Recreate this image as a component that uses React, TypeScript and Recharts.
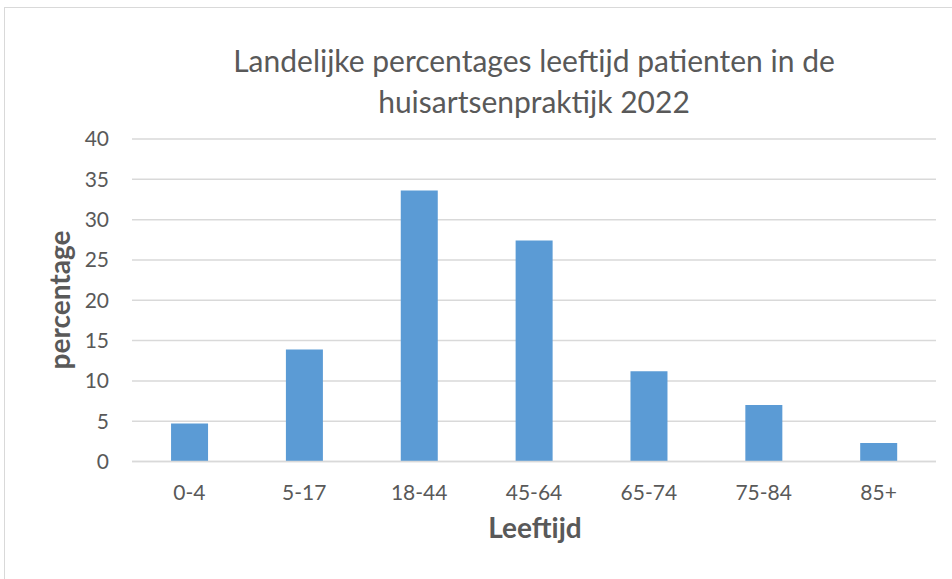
import React from 'react';
import { BarChart, Bar, XAxis, YAxis, CartesianGrid } from 'recharts';

const categories = ['0-4', '5-17', '18-44', '45-64', '65-74', '75-84', '85+'];
const percentages = [4.7, 13.9, 33.6, 27.4, 11.2, 7.0, 2.3];
const yTicks = [0, 5, 10, 15, 20, 25, 30, 35, 40];
const titleLines = ['Landelijke percentages leeftijd patienten in de', 'huisartsenpraktijk 2022'];
const xTitle = 'Leeftijd';
const yTitle = 'percentage';

const data = categories.map((c, i) => ({ cat: c, value: percentages[i] }));

const FONT = 'Lato, "Open Sans", sans-serif';
const TEXT = '#595959';

export default function App() {
  return (
    <div style={{ position: 'absolute', top: 0, left: 0, width: 952, height: 579, background: '#fff', fontFamily: FONT }}>
      <div style={{ position: 'absolute', left: 4, top: 7, width: 948, height: 572, borderTop: '1px solid #d9d9d9', borderLeft: '1px solid #d9d9d9' }} />
      <div style={{ position: 'absolute', left: 0, top: 0 }}>
        <BarChart width={952} height={579} data={data} margin={{ top: 139, right: 16, bottom: 87.5, left: 0 }} barCategoryGap="34%">
          <CartesianGrid vertical={false} stroke="#d9d9d9" strokeWidth={1.5} />
          <XAxis dataKey="cat" height={30} axisLine={{ stroke: '#d9d9d9', strokeWidth: 1.5 }} tickLine={false} tickMargin={18}
            fontSize={21} tick={{ fill: TEXT, fontSize: 21, fontFamily: FONT }} />
          <YAxis width={132} domain={[0, 40]} ticks={yTicks} axisLine={false} tickLine={false} tickMargin={17}
            fontSize={21} tick={{ fill: TEXT, fontSize: 21, fontFamily: FONT }} />
          <Bar dataKey="value" fill="#5b9bd5" isAnimationActive={false} />
        </BarChart>
      </div>
      <svg width={952} height={579} style={{ position: 'absolute', left: 0, top: 0, pointerEvents: 'none' }}>
        <text x={534} y={72} textAnchor="middle" fill={TEXT} fontSize={30} fontFamily={FONT}>{titleLines[0]}</text>
        <text x={534} y={113} textAnchor="middle" fill={TEXT} fontSize={30} fontFamily={FONT}>{titleLines[1]}</text>
        <text x={535} y={538} textAnchor="middle" fill={TEXT} fontSize={28} fontWeight={700} fontFamily={FONT}>{xTitle}</text>
        <text x={0} y={0} transform="translate(70,300) rotate(-90)" textAnchor="middle" fill={TEXT} fontSize={28} fontWeight={700} fontFamily={FONT}>{yTitle}</text>
      </svg>
    </div>
  );
}
